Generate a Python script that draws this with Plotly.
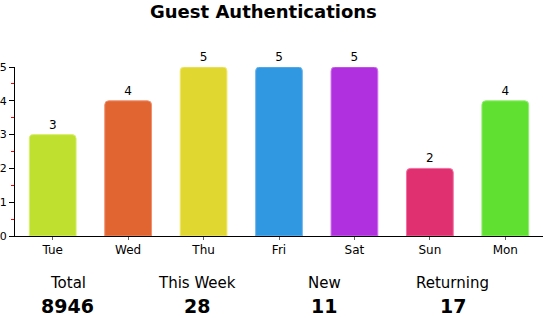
import plotly.graph_objects as go

days = ["Tue", "Wed", "Thu", "Fri", "Sat", "Sun", "Mon"]
counts = [3, 4, 5, 5, 5, 2, 4]
colors = ["#C0E030", "#E06530", "#E0D830", "#3098E0", "#B030E0", "#E03070", "#60E030"]
edge_colors = ["#D8F070", "#F09070", "#F0E870", "#70B8F0", "#D070F0", "#F070A0", "#90F070"]
stat_labels = ["Total", "This Week", "New", "Returning"]
stat_values = ["8946", "28", "11", "17"]
stat_x_px = [65, 195, 323, 452]

W, H = 543, 318
ML, MR, MT, MB = 12, 0, 67, 82
plot_h = H - MT - MB
plot_w = W - ML - MR

def px_x(x):
    return (x - ML) / plot_w

def px_y(y):
    return (H - MB - y) / plot_h

fig = go.Figure()
fig.add_trace(go.Bar(
    x=days, y=counts,
    marker=dict(color=colors, line=dict(color=edge_colors, width=1), cornerradius=4),
    text=[str(c) for c in counts], textposition="outside",
    textfont=dict(family="DejaVu Sans", size=12, color="black"),
    cliponaxis=False, width=0.62,
))

annotations = [dict(text="<b>Guest Authentications</b>", x=px_x(262), y=px_y(12), xref="paper", yref="paper",
                    showarrow=False, font=dict(family="DejaVu Sans", size=18, color="black"),
                    xanchor="center", yanchor="middle")]
for lab, val, xp in zip(stat_labels, stat_values, stat_x_px):
    annotations.append(dict(text=lab, x=px_x(xp), y=px_y(283), xref="paper", yref="paper", showarrow=False,
                            font=dict(family="DejaVu Sans", size=15, color="black"),
                            xanchor="center", yanchor="middle"))
    annotations.append(dict(text="<b>" + val + "</b>", x=px_x(xp), y=px_y(306), xref="paper", yref="paper",
                            showarrow=False, font=dict(family="DejaVu Sans", size=19, color="black"),
                            xanchor="center", yanchor="middle"))

fig.update_layout(
    width=W, height=H, margin=dict(l=ML, r=MR, t=MT, b=MB),
    paper_bgcolor="white", plot_bgcolor="white", showlegend=False,
    annotations=annotations,
    xaxis=dict(showline=True, linecolor="black", linewidth=1, ticks="outside", ticklen=3,
               tickcolor="#606060", tickfont=dict(family="DejaVu Sans", size=12, color="black"),
               showgrid=False, fixedrange=True),
    yaxis=dict(range=[0, 5], showline=True, linecolor="black", linewidth=1, ticks="outside", ticklen=5,
               tickcolor="black", dtick=1, tickfont=dict(family="DejaVu Sans", size=11, color="black"),
               showgrid=False, zeroline=False, ticklabelstandoff=0,
               minor=dict(dtick=0.5, ticks="outside", ticklen=3, tickwidth=1, tickcolor="red", showgrid=False)),
)

fig.write_html("out.html")
